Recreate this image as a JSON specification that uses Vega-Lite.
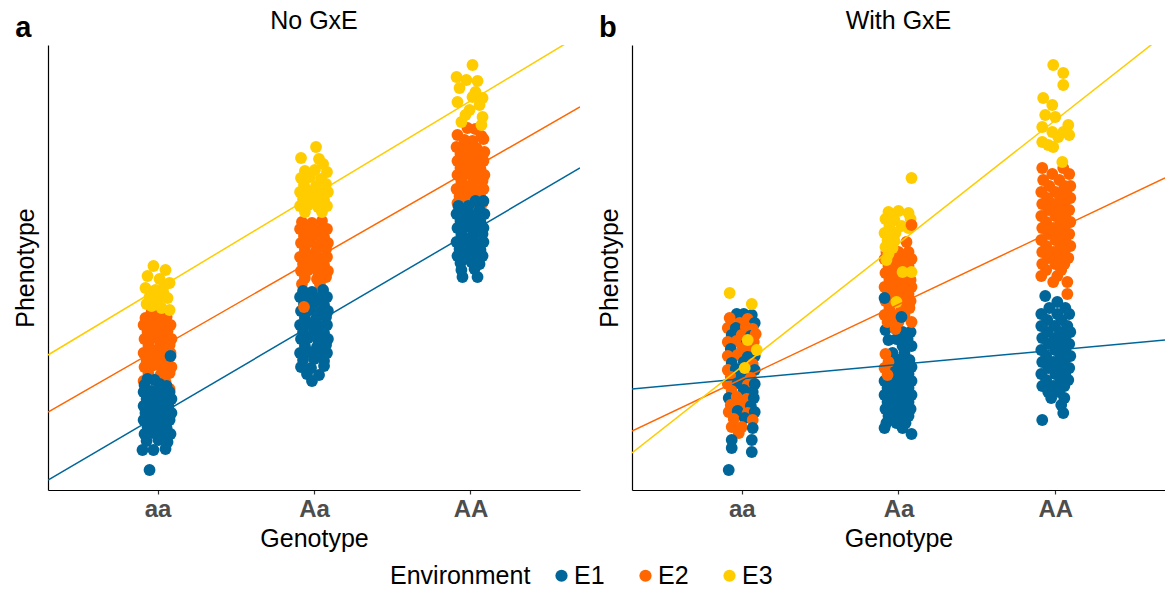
{
  "$schema": "https://vega.github.io/schema/vega-lite/v6.json",
  "padding": {"left": 13, "top": 8, "right": 0, "bottom": 0},
  "spacing": 52,
  "bounds": "flush",
  "config": {
    "font": "Liberation Sans",
    "view": {"stroke": null},
    "axis": {"domainColor": "#000000", "domainWidth": 1.2, "tickColor": "#333333", "tickWidth": 1.2, "grid": false, "titleFontSize": 25, "titleFontWeight": "normal", "titleColor": "#000000", "labelFontSize": 24, "labelFontWeight": "bold", "labelColor": "#4D4D4D"},
    "title": {"fontSize": 25, "fontWeight": "normal", "color": "#000000", "baseline": "alphabetic", "offset": -20, "anchor": "middle"}
  },
  "datasets": {
    "points": [
      {"panel":"a","env":"E2","x":0.962,"y":178},{"panel":"a","env":"E2","x":1.013,"y":176},
      {"panel":"a","env":"E2","x":0.923,"y":172},{"panel":"a","env":"E2","x":0.994,"y":171},{"panel":"a","env":"E2","x":1.058,"y":173},
      {"panel":"a","env":"E2","x":0.911,"y":165},{"panel":"a","env":"E2","x":0.968,"y":166},{"panel":"a","env":"E2","x":1.032,"y":164},{"panel":"a","env":"E2","x":1.083,"y":165},
      {"panel":"a","env":"E2","x":0.936,"y":158},{"panel":"a","env":"E2","x":1.0,"y":157},{"panel":"a","env":"E2","x":1.064,"y":159},
      {"panel":"a","env":"E2","x":0.917,"y":151},{"panel":"a","env":"E2","x":0.974,"y":152},{"panel":"a","env":"E2","x":1.038,"y":150},{"panel":"a","env":"E2","x":1.089,"y":151},
      {"panel":"a","env":"E2","x":0.942,"y":144},{"panel":"a","env":"E2","x":1.013,"y":143},{"panel":"a","env":"E2","x":1.077,"y":145},
      {"panel":"a","env":"E2","x":0.911,"y":137},{"panel":"a","env":"E2","x":0.968,"y":138},{"panel":"a","env":"E2","x":1.032,"y":136},{"panel":"a","env":"E2","x":1.083,"y":137},
      {"panel":"a","env":"E2","x":0.930,"y":130},{"panel":"a","env":"E2","x":1.0,"y":131},{"panel":"a","env":"E2","x":1.064,"y":129},
      {"panel":"a","env":"E2","x":0.917,"y":123},{"panel":"a","env":"E2","x":0.962,"y":124},{"panel":"a","env":"E2","x":1.026,"y":122},{"panel":"a","env":"E2","x":1.089,"y":123},
      {"panel":"a","env":"E2","x":0.942,"y":116},{"panel":"a","env":"E2","x":1.019,"y":115},{"panel":"a","env":"E2","x":1.077,"y":117},
      {"panel":"a","env":"E2","x":0.911,"y":109},{"panel":"a","env":"E2","x":0.987,"y":110},{"panel":"a","env":"E2","x":1.051,"y":108},
      {"panel":"a","env":"E2","x":1.032,"y":102},{"panel":"a","env":"E2","x":1.077,"y":101},
      {"panel":"a","env":"E2","x":1.923,"y":268},{"panel":"a","env":"E2","x":1.987,"y":267},{"panel":"a","env":"E2","x":2.051,"y":269},
      {"panel":"a","env":"E2","x":1.911,"y":261},{"panel":"a","env":"E2","x":1.968,"y":262},{"panel":"a","env":"E2","x":2.032,"y":260},{"panel":"a","env":"E2","x":2.083,"y":261},
      {"panel":"a","env":"E2","x":1.936,"y":254},{"panel":"a","env":"E2","x":2.0,"y":255},{"panel":"a","env":"E2","x":2.064,"y":253},
      {"panel":"a","env":"E2","x":1.917,"y":247},{"panel":"a","env":"E2","x":1.974,"y":248},{"panel":"a","env":"E2","x":2.038,"y":246},{"panel":"a","env":"E2","x":2.089,"y":247},
      {"panel":"a","env":"E2","x":1.942,"y":240},{"panel":"a","env":"E2","x":2.013,"y":239},{"panel":"a","env":"E2","x":2.077,"y":241},
      {"panel":"a","env":"E2","x":1.911,"y":233},{"panel":"a","env":"E2","x":1.968,"y":234},{"panel":"a","env":"E2","x":2.032,"y":232},{"panel":"a","env":"E2","x":2.083,"y":233},
      {"panel":"a","env":"E2","x":1.930,"y":226},{"panel":"a","env":"E2","x":2.0,"y":227},{"panel":"a","env":"E2","x":2.064,"y":225},
      {"panel":"a","env":"E2","x":1.917,"y":219},{"panel":"a","env":"E2","x":1.962,"y":220},{"panel":"a","env":"E2","x":2.026,"y":218},{"panel":"a","env":"E2","x":2.089,"y":219},
      {"panel":"a","env":"E2","x":1.942,"y":212},{"panel":"a","env":"E2","x":2.019,"y":211},{"panel":"a","env":"E2","x":2.077,"y":213},
      {"panel":"a","env":"E2","x":1.923,"y":206},{"panel":"a","env":"E2","x":2.038,"y":206},
      {"panel":"a","env":"E2","x":2.981,"y":362},{"panel":"a","env":"E2","x":3.032,"y":361},
      {"panel":"a","env":"E2","x":2.917,"y":355},{"panel":"a","env":"E2","x":3.070,"y":354},
      {"panel":"a","env":"E2","x":2.962,"y":350},{"panel":"a","env":"E2","x":3.013,"y":349},{"panel":"a","env":"E2","x":3.083,"y":351},
      {"panel":"a","env":"E2","x":2.911,"y":343},{"panel":"a","env":"E2","x":2.974,"y":344},{"panel":"a","env":"E2","x":3.038,"y":342},
      {"panel":"a","env":"E2","x":2.936,"y":336},{"panel":"a","env":"E2","x":3.006,"y":337},{"panel":"a","env":"E2","x":3.070,"y":335},{"panel":"a","env":"E2","x":3.089,"y":338},
      {"panel":"a","env":"E2","x":2.917,"y":329},{"panel":"a","env":"E2","x":2.968,"y":330},{"panel":"a","env":"E2","x":3.032,"y":328},{"panel":"a","env":"E2","x":3.083,"y":329},
      {"panel":"a","env":"E2","x":2.936,"y":322},{"panel":"a","env":"E2","x":3.0,"y":323},{"panel":"a","env":"E2","x":3.064,"y":321},
      {"panel":"a","env":"E2","x":2.917,"y":315},{"panel":"a","env":"E2","x":2.974,"y":316},{"panel":"a","env":"E2","x":3.038,"y":314},{"panel":"a","env":"E2","x":3.089,"y":315},
      {"panel":"a","env":"E2","x":2.942,"y":308},{"panel":"a","env":"E2","x":3.013,"y":307},{"panel":"a","env":"E2","x":3.077,"y":309},
      {"panel":"a","env":"E2","x":2.911,"y":301},{"panel":"a","env":"E2","x":2.968,"y":302},{"panel":"a","env":"E2","x":3.032,"y":300},{"panel":"a","env":"E2","x":3.083,"y":301},
      {"panel":"a","env":"E2","x":2.930,"y":294},{"panel":"a","env":"E2","x":3.0,"y":295},{"panel":"a","env":"E2","x":3.064,"y":293},
      {"panel":"a","env":"E2","x":2.917,"y":287},{"panel":"a","env":"E2","x":2.962,"y":288},{"panel":"a","env":"E2","x":3.026,"y":286},{"panel":"a","env":"E2","x":3.077,"y":287},
      {"panel":"a","env":"E2","x":2.930,"y":280},
      {"panel":"a","env":"E3","x":0.974,"y":224},{"panel":"a","env":"E3","x":1.051,"y":220},{"panel":"a","env":"E3","x":0.936,"y":214},{"panel":"a","env":"E3","x":1.013,"y":211},
      {"panel":"a","env":"E3","x":1.077,"y":207},{"panel":"a","env":"E3","x":0.923,"y":202},{"panel":"a","env":"E3","x":0.987,"y":200},{"panel":"a","env":"E3","x":1.038,"y":197},
      {"panel":"a","env":"E3","x":0.949,"y":193},{"panel":"a","env":"E3","x":1.064,"y":192},{"panel":"a","env":"E3","x":1.0,"y":188},{"panel":"a","env":"E3","x":0.962,"y":184},
      {"panel":"a","env":"E3","x":1.026,"y":182},{"panel":"a","env":"E3","x":1.077,"y":180},{"panel":"a","env":"E3","x":0.930,"y":186},{"panel":"a","env":"E3","x":1.045,"y":205},
      {"panel":"a","env":"E3","x":0.981,"y":194},
      {"panel":"a","env":"E3","x":2.013,"y":343},
      {"panel":"a","env":"E3","x":1.917,"y":332},{"panel":"a","env":"E3","x":2.032,"y":331},
      {"panel":"a","env":"E3","x":2.058,"y":326},
      {"panel":"a","env":"E3","x":1.942,"y":319},{"panel":"a","env":"E3","x":2.006,"y":320},{"panel":"a","env":"E3","x":2.083,"y":318},
      {"panel":"a","env":"E3","x":1.917,"y":312},{"panel":"a","env":"E3","x":1.974,"y":313},{"panel":"a","env":"E3","x":2.045,"y":311},
      {"panel":"a","env":"E3","x":1.936,"y":305},{"panel":"a","env":"E3","x":2.013,"y":304},{"panel":"a","env":"E3","x":2.077,"y":306},
      {"panel":"a","env":"E3","x":1.911,"y":298},{"panel":"a","env":"E3","x":1.968,"y":299},{"panel":"a","env":"E3","x":2.032,"y":297},{"panel":"a","env":"E3","x":2.089,"y":298},
      {"panel":"a","env":"E3","x":1.930,"y":291},{"panel":"a","env":"E3","x":2.0,"y":292},{"panel":"a","env":"E3","x":2.064,"y":290},
      {"panel":"a","env":"E3","x":1.911,"y":284},{"panel":"a","env":"E3","x":1.962,"y":285},{"panel":"a","env":"E3","x":2.026,"y":283},{"panel":"a","env":"E3","x":2.083,"y":284},
      {"panel":"a","env":"E3","x":1.942,"y":278},{"panel":"a","env":"E3","x":2.051,"y":278},
      {"panel":"a","env":"E3","x":3.013,"y":425},{"panel":"a","env":"E3","x":2.911,"y":413},{"panel":"a","env":"E3","x":2.974,"y":410},{"panel":"a","env":"E3","x":3.045,"y":409},
      {"panel":"a","env":"E3","x":2.930,"y":402},{"panel":"a","env":"E3","x":3.013,"y":393},{"panel":"a","env":"E3","x":3.077,"y":392},{"panel":"a","env":"E3","x":2.917,"y":388},
      {"panel":"a","env":"E3","x":3.058,"y":385},{"panel":"a","env":"E3","x":2.994,"y":380},{"panel":"a","env":"E3","x":3.077,"y":373},{"panel":"a","env":"E3","x":2.942,"y":368},
      {"panel":"a","env":"E3","x":3.070,"y":365},{"panel":"a","env":"E3","x":2.968,"y":375},{"panel":"a","env":"E3","x":3.032,"y":398},
      {"panel":"a","env":"E1","x":0.936,"y":111},{"panel":"a","env":"E1","x":0.981,"y":110},
      {"panel":"a","env":"E1","x":0.917,"y":105},{"panel":"a","env":"E1","x":1.013,"y":106},{"panel":"a","env":"E1","x":1.058,"y":104},
      {"panel":"a","env":"E1","x":0.911,"y":98},{"panel":"a","env":"E1","x":0.962,"y":99},{"panel":"a","env":"E1","x":1.026,"y":97},{"panel":"a","env":"E1","x":1.077,"y":98},
      {"panel":"a","env":"E1","x":0.930,"y":91},{"panel":"a","env":"E1","x":1.0,"y":92},{"panel":"a","env":"E1","x":1.051,"y":90},{"panel":"a","env":"E1","x":1.089,"y":91},
      {"panel":"a","env":"E1","x":0.911,"y":84},{"panel":"a","env":"E1","x":0.968,"y":85},{"panel":"a","env":"E1","x":1.032,"y":83},{"panel":"a","env":"E1","x":1.070,"y":84},
      {"panel":"a","env":"E1","x":0.923,"y":77},{"panel":"a","env":"E1","x":0.987,"y":78},{"panel":"a","env":"E1","x":1.045,"y":76},{"panel":"a","env":"E1","x":1.089,"y":77},
      {"panel":"a","env":"E1","x":0.911,"y":70},{"panel":"a","env":"E1","x":0.962,"y":71},{"panel":"a","env":"E1","x":1.019,"y":69},{"panel":"a","env":"E1","x":1.077,"y":70},
      {"panel":"a","env":"E1","x":0.936,"y":63},{"panel":"a","env":"E1","x":1.0,"y":64},{"panel":"a","env":"E1","x":1.058,"y":62},
      {"panel":"a","env":"E1","x":0.917,"y":56},{"panel":"a","env":"E1","x":0.974,"y":57},{"panel":"a","env":"E1","x":1.038,"y":55},{"panel":"a","env":"E1","x":1.083,"y":56},
      {"panel":"a","env":"E1","x":0.930,"y":49},{"panel":"a","env":"E1","x":1.006,"y":50},{"panel":"a","env":"E1","x":1.064,"y":48},
      {"panel":"a","env":"E1","x":0.904,"y":40},{"panel":"a","env":"E1","x":0.974,"y":40},{"panel":"a","env":"E1","x":1.051,"y":41},
      {"panel":"a","env":"E1","x":0.949,"y":20},{"panel":"a","env":"E1","x":1.083,"y":134},
      {"panel":"a","env":"E1","x":1.930,"y":199},{"panel":"a","env":"E1","x":1.987,"y":198},{"panel":"a","env":"E1","x":2.058,"y":200},
      {"panel":"a","env":"E1","x":1.911,"y":193},{"panel":"a","env":"E1","x":1.968,"y":194},{"panel":"a","env":"E1","x":2.032,"y":192},{"panel":"a","env":"E1","x":2.083,"y":193},
      {"panel":"a","env":"E1","x":1.936,"y":186},{"panel":"a","env":"E1","x":2.0,"y":187},{"panel":"a","env":"E1","x":2.064,"y":185},
      {"panel":"a","env":"E1","x":1.917,"y":179},{"panel":"a","env":"E1","x":1.974,"y":180},{"panel":"a","env":"E1","x":2.038,"y":178},{"panel":"a","env":"E1","x":2.089,"y":179},
      {"panel":"a","env":"E1","x":1.942,"y":172},{"panel":"a","env":"E1","x":2.013,"y":171},{"panel":"a","env":"E1","x":2.077,"y":173},
      {"panel":"a","env":"E1","x":1.911,"y":165},{"panel":"a","env":"E1","x":1.968,"y":166},{"panel":"a","env":"E1","x":2.032,"y":164},{"panel":"a","env":"E1","x":2.083,"y":165},
      {"panel":"a","env":"E1","x":1.930,"y":158},{"panel":"a","env":"E1","x":2.0,"y":159},{"panel":"a","env":"E1","x":2.064,"y":157},
      {"panel":"a","env":"E1","x":1.917,"y":151},{"panel":"a","env":"E1","x":1.962,"y":152},{"panel":"a","env":"E1","x":2.026,"y":150},{"panel":"a","env":"E1","x":2.089,"y":151},
      {"panel":"a","env":"E1","x":1.942,"y":144},{"panel":"a","env":"E1","x":2.019,"y":143},{"panel":"a","env":"E1","x":2.077,"y":145},
      {"panel":"a","env":"E1","x":1.911,"y":137},{"panel":"a","env":"E1","x":1.968,"y":138},{"panel":"a","env":"E1","x":2.032,"y":136},{"panel":"a","env":"E1","x":2.083,"y":137},
      {"panel":"a","env":"E1","x":1.930,"y":130},{"panel":"a","env":"E1","x":2.0,"y":131},{"panel":"a","env":"E1","x":2.064,"y":129},
      {"panel":"a","env":"E1","x":1.917,"y":123},{"panel":"a","env":"E1","x":1.981,"y":122},{"panel":"a","env":"E1","x":2.064,"y":124},
      {"panel":"a","env":"E1","x":1.955,"y":116},{"panel":"a","env":"E1","x":2.032,"y":115},
      {"panel":"a","env":"E1","x":1.987,"y":109},
      {"panel":"a","env":"E1","x":3.032,"y":289},{"panel":"a","env":"E1","x":3.083,"y":289},
      {"panel":"a","env":"E1","x":2.923,"y":284},{"panel":"a","env":"E1","x":2.987,"y":284},
      {"panel":"a","env":"E1","x":3.058,"y":280},
      {"panel":"a","env":"E1","x":2.911,"y":276},{"panel":"a","env":"E1","x":2.968,"y":277},{"panel":"a","env":"E1","x":3.026,"y":275},{"panel":"a","env":"E1","x":3.089,"y":276},
      {"panel":"a","env":"E1","x":2.936,"y":269},{"panel":"a","env":"E1","x":3.0,"y":270},{"panel":"a","env":"E1","x":3.064,"y":268},
      {"panel":"a","env":"E1","x":2.917,"y":262},{"panel":"a","env":"E1","x":2.974,"y":263},{"panel":"a","env":"E1","x":3.038,"y":261},{"panel":"a","env":"E1","x":3.083,"y":262},
      {"panel":"a","env":"E1","x":2.942,"y":255},{"panel":"a","env":"E1","x":3.013,"y":254},{"panel":"a","env":"E1","x":3.077,"y":256},
      {"panel":"a","env":"E1","x":2.911,"y":248},{"panel":"a","env":"E1","x":2.968,"y":249},{"panel":"a","env":"E1","x":3.032,"y":247},{"panel":"a","env":"E1","x":3.083,"y":248},
      {"panel":"a","env":"E1","x":2.930,"y":241},{"panel":"a","env":"E1","x":3.0,"y":242},{"panel":"a","env":"E1","x":3.064,"y":240},
      {"panel":"a","env":"E1","x":2.917,"y":234},{"panel":"a","env":"E1","x":2.962,"y":235},{"panel":"a","env":"E1","x":3.026,"y":233},{"panel":"a","env":"E1","x":3.077,"y":234},
      {"panel":"a","env":"E1","x":2.936,"y":227},{"panel":"a","env":"E1","x":3.006,"y":228},{"panel":"a","env":"E1","x":3.058,"y":226},
      {"panel":"a","env":"E1","x":2.942,"y":220},{"panel":"a","env":"E1","x":3.026,"y":221},
      {"panel":"a","env":"E1","x":2.949,"y":213},{"panel":"a","env":"E1","x":3.045,"y":213},
      {"panel":"a","env":"E2","x":1.936,"y":183},

      {"panel":"b","env":"E1","x":0.968,"y":176},{"panel":"b","env":"E1","x":1.013,"y":176},{"panel":"b","env":"E1","x":1.064,"y":175},
      {"panel":"b","env":"E2","x":0.923,"y":172},{"panel":"b","env":"E2","x":1.038,"y":171},
      {"panel":"b","env":"E2","x":0.987,"y":167},{"panel":"b","env":"E1","x":1.083,"y":167},
      {"panel":"b","env":"E2","x":0.911,"y":162},{"panel":"b","env":"E1","x":0.962,"y":162},{"panel":"b","env":"E2","x":1.026,"y":163},{"panel":"b","env":"E2","x":1.070,"y":161},
      {"panel":"b","env":"E1","x":0.936,"y":155},{"panel":"b","env":"E2","x":1.0,"y":155},{"panel":"b","env":"E1","x":1.058,"y":154},{"panel":"b","env":"E2","x":1.089,"y":156},
      {"panel":"b","env":"E2","x":0.911,"y":148},{"panel":"b","env":"E2","x":0.968,"y":149},{"panel":"b","env":"E1","x":1.032,"y":147},{"panel":"b","env":"E2","x":1.077,"y":148},
      {"panel":"b","env":"E1","x":0.930,"y":141},{"panel":"b","env":"E2","x":1.006,"y":142},{"panel":"b","env":"E2","x":1.058,"y":140},
      {"panel":"b","env":"E2","x":0.911,"y":134},{"panel":"b","env":"E2","x":0.974,"y":135},{"panel":"b","env":"E1","x":1.038,"y":133},{"panel":"b","env":"E1","x":1.083,"y":134},
      {"panel":"b","env":"E1","x":0.936,"y":127},{"panel":"b","env":"E1","x":1.013,"y":128},{"panel":"b","env":"E2","x":1.070,"y":126},
      {"panel":"b","env":"E2","x":0.911,"y":120},{"panel":"b","env":"E1","x":0.962,"y":121},{"panel":"b","env":"E2","x":1.026,"y":119},{"panel":"b","env":"E1","x":1.083,"y":120},
      {"panel":"b","env":"E2","x":0.930,"y":113},{"panel":"b","env":"E1","x":1.0,"y":114},{"panel":"b","env":"E2","x":1.058,"y":112},
      {"panel":"b","env":"E2","x":0.911,"y":106},{"panel":"b","env":"E1","x":0.974,"y":107},{"panel":"b","env":"E2","x":1.038,"y":105},{"panel":"b","env":"E1","x":1.083,"y":106},
      {"panel":"b","env":"E2","x":0.936,"y":99},{"panel":"b","env":"E1","x":1.013,"y":100},{"panel":"b","env":"E1","x":1.070,"y":98},
      {"panel":"b","env":"E1","x":0.917,"y":92},{"panel":"b","env":"E2","x":0.968,"y":93},{"panel":"b","env":"E2","x":1.032,"y":91},{"panel":"b","env":"E1","x":1.077,"y":92},
      {"panel":"b","env":"E2","x":0.930,"y":85},{"panel":"b","env":"E2","x":1.0,"y":86},{"panel":"b","env":"E1","x":1.058,"y":84},
      {"panel":"b","env":"E2","x":0.917,"y":78},{"panel":"b","env":"E1","x":0.974,"y":79},{"panel":"b","env":"E2","x":1.038,"y":77},{"panel":"b","env":"E1","x":1.083,"y":78},
      {"panel":"b","env":"E2","x":0.949,"y":71},{"panel":"b","env":"E1","x":1.019,"y":72},{"panel":"b","env":"E2","x":1.070,"y":70},
      {"panel":"b","env":"E2","x":0.936,"y":63},{"panel":"b","env":"E2","x":1.0,"y":63},{"panel":"b","env":"E1","x":1.070,"y":62},
      {"panel":"b","env":"E2","x":0.981,"y":57},
      {"panel":"b","env":"E1","x":0.936,"y":50},{"panel":"b","env":"E1","x":1.064,"y":50},
      {"panel":"b","env":"E1","x":0.936,"y":42},{"panel":"b","env":"E1","x":1.064,"y":38},
      {"panel":"b","env":"E1","x":0.917,"y":20},
      {"panel":"b","env":"E3","x":0.923,"y":197},{"panel":"b","env":"E3","x":1.064,"y":186},{"panel":"b","env":"E3","x":1.038,"y":150},{"panel":"b","env":"E3","x":1.096,"y":140},{"panel":"b","env":"E3","x":1.019,"y":122},

      {"panel":"b","env":"E1","x":1.917,"y":160},{"panel":"b","env":"E1","x":1.936,"y":150},
      {"panel":"b","env":"E1","x":2.026,"y":158},{"panel":"b","env":"E1","x":2.077,"y":158},
      {"panel":"b","env":"E1","x":1.987,"y":151},{"panel":"b","env":"E1","x":2.058,"y":151},
      {"panel":"b","env":"E1","x":2.026,"y":144},{"panel":"b","env":"E1","x":2.083,"y":144},
      {"panel":"b","env":"E1","x":1.962,"y":137},{"panel":"b","env":"E1","x":2.038,"y":137},
      {"panel":"b","env":"E1","x":2.0,"y":130},{"panel":"b","env":"E1","x":2.070,"y":130},
      {"panel":"b","env":"E1","x":1.968,"y":123},{"panel":"b","env":"E1","x":2.026,"y":123},{"panel":"b","env":"E1","x":2.083,"y":123},
      {"panel":"b","env":"E1","x":1.949,"y":116},{"panel":"b","env":"E1","x":2.006,"y":116},{"panel":"b","env":"E1","x":2.064,"y":116},
      {"panel":"b","env":"E1","x":1.911,"y":109},{"panel":"b","env":"E1","x":1.974,"y":109},{"panel":"b","env":"E1","x":2.038,"y":109},{"panel":"b","env":"E1","x":2.083,"y":109},
      {"panel":"b","env":"E1","x":1.930,"y":102},{"panel":"b","env":"E1","x":2.0,"y":102},{"panel":"b","env":"E1","x":2.064,"y":102},
      {"panel":"b","env":"E1","x":1.911,"y":95},{"panel":"b","env":"E1","x":1.968,"y":95},{"panel":"b","env":"E1","x":2.032,"y":95},{"panel":"b","env":"E1","x":2.083,"y":95},
      {"panel":"b","env":"E1","x":1.930,"y":88},{"panel":"b","env":"E1","x":2.0,"y":88},{"panel":"b","env":"E1","x":2.064,"y":88},
      {"panel":"b","env":"E1","x":1.917,"y":81},{"panel":"b","env":"E1","x":1.968,"y":81},{"panel":"b","env":"E1","x":2.026,"y":81},{"panel":"b","env":"E1","x":2.077,"y":81},
      {"panel":"b","env":"E1","x":1.936,"y":74},{"panel":"b","env":"E1","x":2.006,"y":74},{"panel":"b","env":"E1","x":2.064,"y":74},
      {"panel":"b","env":"E1","x":1.923,"y":67},{"panel":"b","env":"E1","x":1.987,"y":67},{"panel":"b","env":"E1","x":2.045,"y":67},
      {"panel":"b","env":"E1","x":1.911,"y":62},{"panel":"b","env":"E1","x":2.026,"y":62},
      {"panel":"b","env":"E1","x":2.083,"y":56},
      {"panel":"b","env":"E2","x":2.051,"y":248},
      {"panel":"b","env":"E2","x":1.923,"y":238},{"panel":"b","env":"E2","x":2.0,"y":238},{"panel":"b","env":"E2","x":2.064,"y":238},
      {"panel":"b","env":"E2","x":1.911,"y":231},{"panel":"b","env":"E2","x":1.968,"y":231},{"panel":"b","env":"E2","x":2.032,"y":231},{"panel":"b","env":"E2","x":2.083,"y":231},
      {"panel":"b","env":"E2","x":1.936,"y":224},{"panel":"b","env":"E2","x":2.0,"y":224},{"panel":"b","env":"E2","x":2.064,"y":224},
      {"panel":"b","env":"E2","x":1.917,"y":217},{"panel":"b","env":"E2","x":1.974,"y":217},{"panel":"b","env":"E2","x":2.038,"y":217},
      {"panel":"b","env":"E2","x":1.942,"y":210},{"panel":"b","env":"E2","x":2.013,"y":210},{"panel":"b","env":"E2","x":2.077,"y":210},
      {"panel":"b","env":"E2","x":1.911,"y":203},{"panel":"b","env":"E2","x":1.968,"y":203},{"panel":"b","env":"E2","x":2.032,"y":203},{"panel":"b","env":"E2","x":2.083,"y":203},
      {"panel":"b","env":"E2","x":1.930,"y":196},{"panel":"b","env":"E2","x":2.0,"y":196},{"panel":"b","env":"E2","x":2.064,"y":196},
      {"panel":"b","env":"E2","x":1.917,"y":189},{"panel":"b","env":"E2","x":1.962,"y":189},{"panel":"b","env":"E2","x":2.026,"y":189},{"panel":"b","env":"E2","x":2.077,"y":189},
      {"panel":"b","env":"E2","x":1.942,"y":182},{"panel":"b","env":"E2","x":2.019,"y":182},{"panel":"b","env":"E2","x":2.070,"y":182},
      {"panel":"b","env":"E2","x":1.911,"y":175},{"panel":"b","env":"E2","x":1.974,"y":175},{"panel":"b","env":"E2","x":2.038,"y":175},
      {"panel":"b","env":"E2","x":1.930,"y":168},{"panel":"b","env":"E2","x":2.0,"y":168},{"panel":"b","env":"E2","x":2.083,"y":168},
      {"panel":"b","env":"E2","x":1.981,"y":161},
      {"panel":"b","env":"E2","x":1.917,"y":136},{"panel":"b","env":"E2","x":1.936,"y":128},{"panel":"b","env":"E2","x":1.911,"y":122},{"panel":"b","env":"E2","x":1.930,"y":115},
      {"panel":"b","env":"E1","x":1.911,"y":192},{"panel":"b","env":"E1","x":2.019,"y":173},
      {"panel":"b","env":"E3","x":2.083,"y":312},
      {"panel":"b","env":"E3","x":1.936,"y":278},{"panel":"b","env":"E3","x":2.0,"y":279},{"panel":"b","env":"E3","x":2.064,"y":277},
      {"panel":"b","env":"E3","x":1.917,"y":271},{"panel":"b","env":"E3","x":1.974,"y":270},{"panel":"b","env":"E3","x":2.077,"y":271},
      {"panel":"b","env":"E3","x":1.942,"y":264},{"panel":"b","env":"E3","x":2.019,"y":264},{"panel":"b","env":"E3","x":2.064,"y":262},
      {"panel":"b","env":"E3","x":1.911,"y":257},{"panel":"b","env":"E3","x":1.981,"y":257},
      {"panel":"b","env":"E3","x":1.930,"y":250},{"panel":"b","env":"E3","x":1.974,"y":249},
      {"panel":"b","env":"E3","x":1.917,"y":243},{"panel":"b","env":"E3","x":1.962,"y":242},
      {"panel":"b","env":"E3","x":1.936,"y":236},
      {"panel":"b","env":"E3","x":1.923,"y":230},
      {"panel":"b","env":"E3","x":2.026,"y":218},{"panel":"b","env":"E3","x":2.083,"y":218},{"panel":"b","env":"E3","x":1.987,"y":188},
      {"panel":"b","env":"E2","x":2.083,"y":265},

      {"panel":"b","env":"E1","x":2.936,"y":194},
      {"panel":"b","env":"E1","x":3.013,"y":188},
      {"panel":"b","env":"E1","x":2.962,"y":182},{"panel":"b","env":"E1","x":3.064,"y":182},
      {"panel":"b","env":"E1","x":2.911,"y":176},{"panel":"b","env":"E1","x":3.013,"y":176},{"panel":"b","env":"E1","x":3.089,"y":176},
      {"panel":"b","env":"E1","x":2.949,"y":170},{"panel":"b","env":"E1","x":3.038,"y":170},
      {"panel":"b","env":"E1","x":2.911,"y":164},{"panel":"b","env":"E1","x":2.994,"y":164},{"panel":"b","env":"E1","x":3.077,"y":164},
      {"panel":"b","env":"E1","x":2.949,"y":158},{"panel":"b","env":"E1","x":3.032,"y":158},{"panel":"b","env":"E1","x":3.096,"y":158},
      {"panel":"b","env":"E1","x":2.917,"y":152},{"panel":"b","env":"E1","x":2.994,"y":152},{"panel":"b","env":"E1","x":3.064,"y":152},
      {"panel":"b","env":"E1","x":2.955,"y":146},{"panel":"b","env":"E1","x":3.026,"y":146},{"panel":"b","env":"E1","x":3.089,"y":146},
      {"panel":"b","env":"E1","x":2.911,"y":140},{"panel":"b","env":"E1","x":3.0,"y":140},{"panel":"b","env":"E1","x":3.064,"y":140},
      {"panel":"b","env":"E1","x":2.942,"y":134},{"panel":"b","env":"E1","x":3.032,"y":134},{"panel":"b","env":"E1","x":3.096,"y":134},
      {"panel":"b","env":"E1","x":2.917,"y":128},{"panel":"b","env":"E1","x":2.987,"y":128},{"panel":"b","env":"E1","x":3.058,"y":128},
      {"panel":"b","env":"E1","x":2.955,"y":122},{"panel":"b","env":"E1","x":3.026,"y":122},{"panel":"b","env":"E1","x":3.089,"y":122},
      {"panel":"b","env":"E1","x":2.911,"y":116},{"panel":"b","env":"E1","x":3.0,"y":116},{"panel":"b","env":"E1","x":3.064,"y":116},
      {"panel":"b","env":"E1","x":2.942,"y":110},{"panel":"b","env":"E1","x":3.032,"y":110},{"panel":"b","env":"E1","x":3.083,"y":110},
      {"panel":"b","env":"E1","x":2.917,"y":104},{"panel":"b","env":"E1","x":2.987,"y":104},{"panel":"b","env":"E1","x":3.058,"y":104},
      {"panel":"b","env":"E1","x":2.955,"y":98},{"panel":"b","env":"E1","x":3.026,"y":98},
      {"panel":"b","env":"E1","x":2.974,"y":92},{"panel":"b","env":"E1","x":3.058,"y":92},
      {"panel":"b","env":"E1","x":3.038,"y":85},
      {"panel":"b","env":"E1","x":3.051,"y":77},
      {"panel":"b","env":"E1","x":2.917,"y":70},
      {"panel":"b","env":"E2","x":2.917,"y":322},{"panel":"b","env":"E2","x":3.051,"y":322},
      {"panel":"b","env":"E2","x":2.981,"y":316},{"panel":"b","env":"E2","x":3.089,"y":316},
      {"panel":"b","env":"E2","x":2.923,"y":310},{"panel":"b","env":"E2","x":3.026,"y":310},
      {"panel":"b","env":"E2","x":2.962,"y":304},{"panel":"b","env":"E2","x":3.058,"y":304},{"panel":"b","env":"E2","x":3.096,"y":304},
      {"panel":"b","env":"E2","x":2.911,"y":298},{"panel":"b","env":"E2","x":3.0,"y":298},{"panel":"b","env":"E2","x":3.070,"y":298},
      {"panel":"b","env":"E2","x":2.949,"y":292},{"panel":"b","env":"E2","x":3.032,"y":292},{"panel":"b","env":"E2","x":3.096,"y":292},
      {"panel":"b","env":"E2","x":2.917,"y":286},{"panel":"b","env":"E2","x":2.987,"y":286},{"panel":"b","env":"E2","x":3.058,"y":286},
      {"panel":"b","env":"E2","x":2.955,"y":280},{"panel":"b","env":"E2","x":3.026,"y":280},{"panel":"b","env":"E2","x":3.089,"y":280},
      {"panel":"b","env":"E2","x":2.911,"y":274},{"panel":"b","env":"E2","x":3.0,"y":274},{"panel":"b","env":"E2","x":3.064,"y":274},
      {"panel":"b","env":"E2","x":2.942,"y":268},{"panel":"b","env":"E2","x":3.032,"y":268},{"panel":"b","env":"E2","x":3.096,"y":268},
      {"panel":"b","env":"E2","x":2.917,"y":262},{"panel":"b","env":"E2","x":2.987,"y":262},{"panel":"b","env":"E2","x":3.058,"y":262},
      {"panel":"b","env":"E2","x":2.955,"y":256},{"panel":"b","env":"E2","x":3.026,"y":256},{"panel":"b","env":"E2","x":3.089,"y":256},
      {"panel":"b","env":"E2","x":2.911,"y":250},{"panel":"b","env":"E2","x":3.0,"y":250},{"panel":"b","env":"E2","x":3.064,"y":250},
      {"panel":"b","env":"E2","x":2.942,"y":244},{"panel":"b","env":"E2","x":3.032,"y":244},{"panel":"b","env":"E2","x":3.096,"y":244},
      {"panel":"b","env":"E2","x":2.917,"y":238},{"panel":"b","env":"E2","x":2.987,"y":238},{"panel":"b","env":"E2","x":3.058,"y":238},
      {"panel":"b","env":"E2","x":2.955,"y":232},{"panel":"b","env":"E2","x":3.026,"y":232},{"panel":"b","env":"E2","x":3.083,"y":232},
      {"panel":"b","env":"E2","x":2.917,"y":226},{"panel":"b","env":"E2","x":3.0,"y":226},{"panel":"b","env":"E2","x":3.058,"y":226},
      {"panel":"b","env":"E2","x":2.942,"y":220},{"panel":"b","env":"E2","x":3.038,"y":220},
      {"panel":"b","env":"E2","x":2.911,"y":214},{"panel":"b","env":"E2","x":3.013,"y":214},
      {"panel":"b","env":"E2","x":2.987,"y":208},{"panel":"b","env":"E2","x":3.077,"y":208},
      {"panel":"b","env":"E2","x":3.077,"y":196},
      {"panel":"b","env":"E3","x":2.987,"y":425},{"panel":"b","env":"E3","x":3.051,"y":417},{"panel":"b","env":"E3","x":3.051,"y":405},
      {"panel":"b","env":"E3","x":2.923,"y":392},{"panel":"b","env":"E3","x":2.981,"y":385},{"panel":"b","env":"E3","x":2.936,"y":375},{"panel":"b","env":"E3","x":3.0,"y":373},
      {"panel":"b","env":"E3","x":3.083,"y":365},{"panel":"b","env":"E3","x":3.089,"y":355},{"panel":"b","env":"E3","x":2.917,"y":363},{"panel":"b","env":"E3","x":2.981,"y":358},
      {"panel":"b","env":"E3","x":3.019,"y":353},{"panel":"b","env":"E3","x":2.917,"y":348},{"panel":"b","env":"E3","x":2.955,"y":345},{"panel":"b","env":"E3","x":3.051,"y":358},
      {"panel":"b","env":"E3","x":2.987,"y":343},{"panel":"b","env":"E3","x":3.045,"y":328}
    ],
    "lines": [
      {"panel":"a","env":"E1","x":0.3,"y":10},{"panel":"a","env":"E1","x":3.7,"y":322},
      {"panel":"a","env":"E2","x":0.3,"y":78},{"panel":"a","env":"E2","x":3.7,"y":383},
      {"panel":"a","env":"E3","x":0.3,"y":135},{"panel":"a","env":"E3","x":3.7,"y":455},
      {"panel":"b","env":"E1","x":0.3,"y":101},{"panel":"b","env":"E1","x":3.7,"y":150},
      {"panel":"b","env":"E2","x":0.3,"y":59},{"panel":"b","env":"E2","x":3.7,"y":312},
      {"panel":"b","env":"E3","x":0.3,"y":37},{"panel":"b","env":"E3","x":3.7,"y":456}
    ]
  },
  "hconcat": [
    {
      "width": 532, "height": 445,
      "title": {"text": "No GxE"},
      "layer": [
        {
          "data": {"name": "points"},
          "transform": [{"filter": "datum.panel === 'a'"}],
          "mark": {"type": "point", "filled": true, "opacity": 1, "size": 140, "shape": "circle", "strokeWidth": 0},
          "encoding": {
            "x": {"field": "x", "type": "quantitative", "title": "Genotype", "scale": {"domain": [0.3, 3.7], "nice": false, "zero": false}, "axis": {"title": "Genotype", "values": [1, 2, 3], "labelExpr": "datum.value == 1 ? 'aa' : datum.value == 2 ? 'Aa' : 'AA'", "tickSize": 4, "labelPadding": 3, "titlePadding": 5, "labelOverlap": false, "labelFlush": false}},
            "y": {"field": "y", "type": "quantitative", "title": "Phenotype", "scale": {"domain": [0, 445], "nice": false, "zero": false}, "axis": {"title": "Phenotype", "labels": false, "ticks": false, "titlePadding": 10}},
            "color": {"field": "env", "type": "nominal", "title": "Environment", "scale": {"domain": ["E1", "E2", "E3"], "range": ["#006699", "#FF6600", "#FFCC00"]},
              "legend": {"orient": "none", "legendX": 342, "legendY": 518, "direction": "horizontal", "titleOrient": "left", "titleAnchor": "middle", "titleBaseline": "middle", "titleFontSize": 25, "titleFontWeight": "normal", "titleColor": "#000000", "labelFontSize": 25, "labelColor": "#000000", "symbolSize": 150, "symbolType": "circle", "symbolStrokeWidth": 0, "labelOffset": 0, "columnPadding": 28, "titlePadding": 18}}
          }
        },
        {
          "data": {"name": "lines"},
          "transform": [{"filter": "datum.panel === 'a'"}],
          "mark": {"type": "line", "strokeWidth": 1.5, "clip": true},
          "encoding": {
            "x": {"field": "x", "type": "quantitative", "title": "Genotype"},
            "y": {"field": "y", "type": "quantitative", "title": "Phenotype"},
            "stroke": {"field": "env", "type": "nominal", "scale": {"domain": ["E1", "E2", "E3"], "range": ["#006699", "#FF6600", "#FFCC00"]}, "legend": null}
          }
        },
        {
          "data": {"values": [{"label": "a"}]},
          "mark": {"type": "text", "align": "left", "baseline": "alphabetic", "fontSize": 29, "fontWeight": "bold", "color": "#000000"},
          "encoding": {
            "x": {"datum": 0.09, "type": "quantitative"},
            "y": {"datum": 453, "type": "quantitative"},
            "text": {"field": "label"}
          }
        }
      ]
    },
    {
      "width": 533, "height": 445,
      "title": {"text": "With GxE"},
      "layer": [
        {
          "data": {"name": "points"},
          "transform": [{"filter": "datum.panel === 'b'"}],
          "mark": {"type": "point", "filled": true, "opacity": 1, "size": 140, "shape": "circle", "strokeWidth": 0},
          "encoding": {
            "x": {"field": "x", "type": "quantitative", "title": "Genotype", "scale": {"domain": [0.3, 3.7], "nice": false, "zero": false}, "axis": {"title": "Genotype", "values": [1, 2, 3], "labelExpr": "datum.value == 1 ? 'aa' : datum.value == 2 ? 'Aa' : 'AA'", "tickSize": 4, "labelPadding": 3, "titlePadding": 5, "labelOverlap": false, "labelFlush": false}},
            "y": {"field": "y", "type": "quantitative", "title": "Phenotype", "scale": {"domain": [0, 445], "nice": false, "zero": false}, "axis": {"title": "Phenotype", "labels": false, "ticks": false, "titlePadding": 10}},
            "color": {"field": "env", "type": "nominal", "title": "Environment", "scale": {"domain": ["E1", "E2", "E3"], "range": ["#006699", "#FF6600", "#FFCC00"]},
              "legend": {"orient": "none", "legendX": 342, "legendY": 518, "direction": "horizontal", "titleOrient": "left", "titleAnchor": "middle", "titleBaseline": "middle", "titleFontSize": 25, "titleFontWeight": "normal", "titleColor": "#000000", "labelFontSize": 25, "labelColor": "#000000", "symbolSize": 150, "symbolType": "circle", "symbolStrokeWidth": 0, "labelOffset": 0, "columnPadding": 28, "titlePadding": 18}}
          }
        },
        {
          "data": {"name": "lines"},
          "transform": [{"filter": "datum.panel === 'b'"}],
          "mark": {"type": "line", "strokeWidth": 1.5, "clip": true},
          "encoding": {
            "x": {"field": "x", "type": "quantitative", "title": "Genotype"},
            "y": {"field": "y", "type": "quantitative", "title": "Phenotype"},
            "stroke": {"field": "env", "type": "nominal", "scale": {"domain": ["E1", "E2", "E3"], "range": ["#006699", "#FF6600", "#FFCC00"]}, "legend": null}
          }
        },
        {
          "data": {"values": [{"label": "b"}]},
          "mark": {"type": "text", "align": "left", "baseline": "alphabetic", "fontSize": 29, "fontWeight": "bold", "color": "#000000"},
          "encoding": {
            "x": {"datum": 0.09, "type": "quantitative"},
            "y": {"datum": 453, "type": "quantitative"},
            "text": {"field": "label"}
          }
        }
      ]
    }
  ],
  "resolve": {"scale": {"color": "shared", "stroke": "shared"}, "legend": {"color": "shared"}}
}
